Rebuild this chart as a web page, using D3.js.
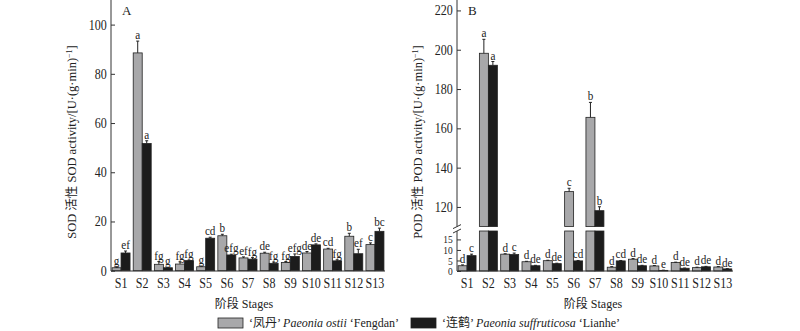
<!DOCTYPE html>
<html>
<head>
<meta charset="utf-8">
<script src="https://cdn.jsdelivr.net/npm/d3@7"></script>
<style>
  body { margin: 0; background: #fff; }
  svg text { font-family: "Liberation Serif", "Noto Sans CJK SC", serif; fill: #222; }
</style>
</head>
<body>
<svg id="chart" width="800" height="331"></svg>
<script>
// stages and measured values (mean, error, significance letters)
var stages = ["S1","S2","S3","S4","S5","S6","S7","S8","S9","S10","S11","S12","S13"];

var sodFengdan    = [1.2, 88.5, 2.6, 2.7, 1.6, 14.2, 5.2, 7.1, 3.3, 7.2, 8.8, 14.0, 10.6];
var sodFengdanErr = [0.4, 4.8, 1.1, 0.9, 0.3, 0.6, 0.4, 0.4, 0.4, 0.6, 0.3, 1.2, 0.7];
var sodLianhe     = [7.2, 51.7, 1.2, 4.1, 13.2, 6.4, 4.7, 3.0, 5.8, 10.5, 4.0, 6.9, 16.0];
var sodLianheErr  = [0.8, 1.1, 0.2, 0.2, 0.4, 0.3, 0.6, 0.5, 1.0, 0.4, 0.4, 1.8, 1.3];
var sodFengdanSig = ["g","a","fg","fg","g","b","ef","de","fg","de","cd","b","c"];
var sodLianheSig  = ["ef","a","g","fg","cd","efg","fg","fg","efg","de","fg","ef","bc"];

var podFengdan    = [2.5, 198.2, 8.0, 4.4, 4.9, 127.8, 165.6, 1.8, 5.6, 2.4, 4.0, 1.6, 1.9];
var podFengdanErr = [0.4, 7.1, 0.2, 0.2, 0.2, 1.7, 7.6, 0.3, 0.3, 0.2, 0.2, 0.2, 0.2];
var podLianhe     = [7.3, 192.1, 7.8, 2.5, 3.5, 4.8, 118.1, 4.8, 2.5, 0.3, 1.3, 2.0, 1.0];
var podLianheErr  = [0.7, 1.9, 0.7, 0.2, 0.2, 0.2, 2.0, 0.2, 0.2, 0.1, 0.1, 0.2, 0.1];
var podFengdanSig = ["d","a","d","d","d","c","b","d","d","d","d","d","d"];
var podLianheSig  = ["c","a","c","de","de","cd","b","cd","de","e","de","de","de"];

var sodTicks = [0, 20, 40, 60, 80, 100];
var podLowTicks = [0, 5, 10, 15];
var podHighTicks = [120, 140, 160, 180, 200, 220];

var grayFill = "#a8a8aa", blackFill = "#1c1c1c", axisColor = "#333";
var narrow = "scale(0.86,1)";   // the serif glyphs are set a bit condensed

var svg = d3.select("#chart");

function series(vals, errs, sigs) {
  return vals.map(function(v, i) { return {stage: stages[i], v: v, e: errs[i], sig: sigs[i]}; });
}

/************* panel A : SOD *************/
var xA = d3.scaleBand().domain(stages).range([111, 385]).paddingInner(0.15).paddingOuter(0.05);
var sub = d3.scaleBand().domain(["f", "l"]).range([0, xA.bandwidth()]);
var yA = d3.scaleLinear().domain([0, 110]).range([270.7, 0]);

var gA = svg.append("g");

function drawSeries(g, x, data, key, fill, yFn) {
  var grp = g.append("g");
  data.forEach(function(d) {
    var x0 = x(d.stage) + sub(key), w = sub.bandwidth();
    var cx = x0 + w / 2;
    yFn.bars(grp, x0, w, d.v, fill);
    var yt = yFn.y(d.v + d.e);
    grp.append("line").attr("x1", cx).attr("x2", cx)
      .attr("y1", yFn.y(d.v)).attr("y2", yt)
      .attr("stroke", "#222").attr("stroke-width", 1);
    grp.append("line").attr("x1", cx - 1.5).attr("x2", cx + 1.5)
      .attr("y1", yt).attr("y2", yt)
      .attr("stroke", "#222").attr("stroke-width", 1);
    grp.append("text")
      .attr("transform", "translate(" + cx + "," + (yt - 2) + ") " + narrow)
      .attr("text-anchor", "middle").attr("font-size", 13).text(d.sig);
  });
}

var sodScale = {
  y: yA,
  bars: function(grp, x0, w, v, fill) {
    grp.append("rect").attr("x", x0).attr("width", w)
      .attr("y", yA(v)).attr("height", yA(0) - yA(v))
      .attr("fill", fill).attr("stroke", "#222").attr("stroke-width", 0.8);
  }
};

drawSeries(gA, xA, series(sodFengdan, sodFengdanErr, sodFengdanSig), "f", grayFill, sodScale);
drawSeries(gA, xA, series(sodLianhe, sodLianheErr, sodLianheSig), "l", blackFill, sodScale);

function styleTicks(ax, size) {
  ax.selectAll(".tick text").attr("font-size", size)
    .attr("font-family", "Liberation Serif").attr("fill", "#222").attr("transform", narrow);
}

var axA = gA.append("g").attr("transform", "translate(111,0)")
  .call(d3.axisRight(yA).tickValues(sodTicks).tickSize(4).tickFormat(d3.format("d")));
axA.select(".domain").remove();
axA.selectAll(".tick line").attr("stroke", axisColor);
axA.selectAll(".tick text").attr("x", -5).attr("text-anchor", "end");
styleTicks(axA, 14);
gA.append("line").attr("x1", 111).attr("x2", 111).attr("y1", 0).attr("y2", 271)
  .attr("stroke", axisColor);

var bxA = gA.append("g").attr("transform", "translate(0,271)")
  .call(d3.axisBottom(xA).tickSize(0).tickPadding(7));
bxA.select(".domain").attr("stroke", axisColor).attr("d", "M111,0H385");
styleTicks(bxA, 14);

gA.append("text").attr("x", 122).attr("y", 15).attr("font-size", 13).text("A");

gA.append("text").attr("transform", "translate(76,142) rotate(-90)")
  .attr("text-anchor", "middle").attr("font-size", 12.5)
  .call(function(t) {
    t.append("tspan").text("SOD 活性 SOD activity/[U·(g·min)");
    t.append("tspan").attr("baseline-shift", "super").attr("font-size", 8).text("−1");
    t.append("tspan").text("]");
  });

gA.append("text").attr("x", 244).attr("y", 308).attr("text-anchor", "middle")
  .attr("font-size", 12).text("阶段 Stages");

/************* panel B : POD (broken axis) *************/
var xB = d3.scaleBand().domain(stages).range([457, 733]).paddingInner(0.15).paddingOuter(0.05);
var yLow = d3.scaleLinear().domain([0, 19]).range([271, 231]);
var yHigh = d3.scaleLinear().domain([110, 225]).range([226.6, 0.6]);
var lowMax = 19, highMin = 110;

function yPod(v) { return v <= lowMax ? yLow(v) : yHigh(v); }

function podRect(grp, x0, w, y0, y1, fill) {
  grp.append("rect").attr("x", x0).attr("width", w)
    .attr("y", y1).attr("height", y0 - y1)
    .attr("fill", fill).attr("stroke", "#222").attr("stroke-width", 0.8);
}

var podScale = {
  y: yPod,
  bars: function(grp, x0, w, v, fill) {
    if (v <= lowMax) {
      podRect(grp, x0, w, yLow(0), yLow(v), fill);
    } else {
      // tall bars are split across the break
      podRect(grp, x0, w, yLow(0), yLow(lowMax), fill);
      podRect(grp, x0, w, yHigh(highMin), yHigh(v), fill);
    }
  }
};

var gB = svg.append("g");
drawSeries(gB, xB, series(podFengdan, podFengdanErr, podFengdanSig), "f", grayFill, podScale);
drawSeries(gB, xB, series(podLianhe, podLianheErr, podLianheSig), "l", blackFill, podScale);

function yTicks(scale, vals, size) {
  var ax = gB.append("g").attr("transform", "translate(457,0)")
    .call(d3.axisRight(scale).tickValues(vals).tickSize(4).tickFormat(d3.format("d")));
  ax.select(".domain").remove();
  ax.selectAll(".tick line").attr("stroke", axisColor);
  ax.selectAll(".tick text").attr("x", -5).attr("text-anchor", "end");
  styleTicks(ax, size);
  return ax;
}
yTicks(yHigh, podHighTicks, 14);
yTicks(yLow, podLowTicks, 11);

// axis line in two pieces with break marks
gB.append("line").attr("x1", 457).attr("x2", 457).attr("y1", 0).attr("y2", 226.6).attr("stroke", axisColor);
gB.append("line").attr("x1", 457).attr("x2", 457).attr("y1", 231).attr("y2", 271).attr("stroke", axisColor);
[226.6, 231].forEach(function(yy) {
  gB.append("line").attr("x1", 453).attr("x2", 461).attr("y1", yy + 2).attr("y2", yy - 2)
    .attr("stroke", axisColor);
});

var bxB = gB.append("g").attr("transform", "translate(0,271)")
  .call(d3.axisBottom(xB).tickSize(0).tickPadding(7));
bxB.select(".domain").attr("stroke", axisColor).attr("d", "M457,0H733");
styleTicks(bxB, 14);

gB.append("text").attr("x", 468).attr("y", 15).attr("font-size", 13).text("B");

gB.append("text").attr("transform", "translate(422,142) rotate(-90)")
  .attr("text-anchor", "middle").attr("font-size", 12.5)
  .call(function(t) {
    t.append("tspan").text("POD 活性 POD activity/[U·(g·min)");
    t.append("tspan").attr("baseline-shift", "super").attr("font-size", 8).text("−1");
    t.append("tspan").text("]");
  });

gB.append("text").attr("x", 593).attr("y", 308).attr("text-anchor", "middle")
  .attr("font-size", 12).text("阶段 Stages");

/************* legend *************/
var leg = svg.append("g");
leg.append("rect").attr("x", 218).attr("y", 318).attr("width", 25).attr("height", 10)
  .attr("fill", grayFill).attr("stroke", "#222").attr("stroke-width", 0.8);
leg.append("text").attr("x", 249).attr("y", 327).attr("font-size", 12)
  .call(function(t) {
    t.append("tspan").text("‘凤丹’ ");
    t.append("tspan").attr("font-style", "italic").text("Paeonia ostii");
    t.append("tspan").text(" ‘Fengdan’");
  });
leg.append("rect").attr("x", 411).attr("y", 318).attr("width", 25).attr("height", 10)
  .attr("fill", blackFill).attr("stroke", "#222").attr("stroke-width", 0.8);
leg.append("text").attr("x", 442).attr("y", 327).attr("font-size", 12)
  .call(function(t) {
    t.append("tspan").text("‘连鹤’ ");
    t.append("tspan").attr("font-style", "italic").text("Paeonia suffruticosa");
    t.append("tspan").text(" ‘Lianhe’");
  });
</script>
</body>
</html>
